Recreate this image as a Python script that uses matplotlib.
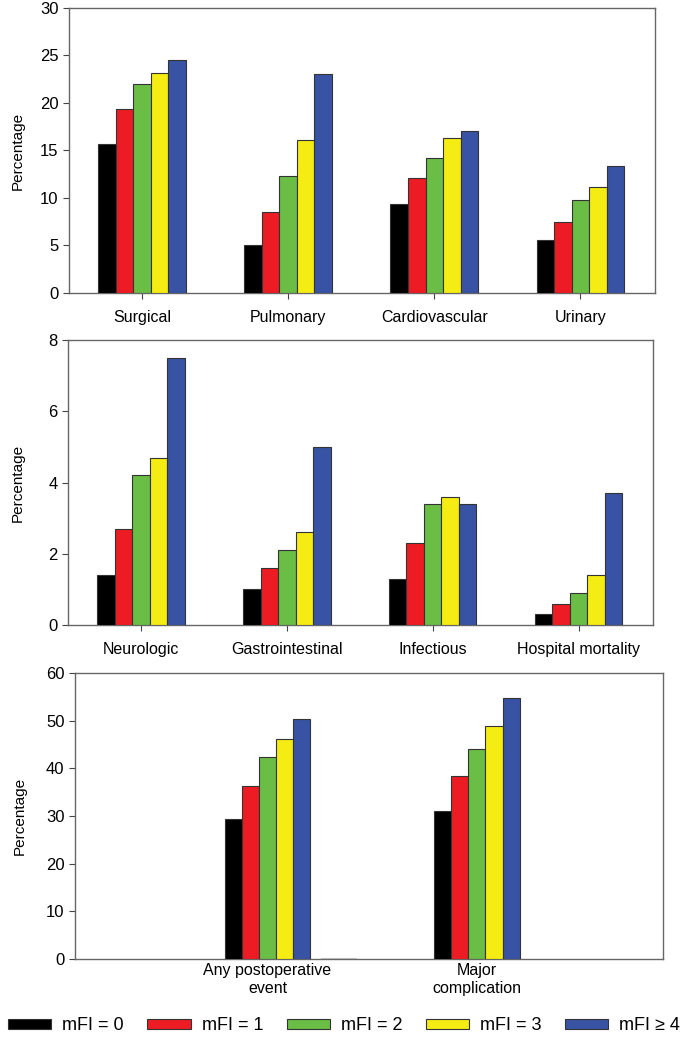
#!/usr/bin/env python3
# Complication rates by modified frailty index (mFI), three stacked panels

import numpy as np
from matplotlib import pyplot as plt
from matplotlib.patches import Patch

plt.rcParams['font.family'] = ['Liberation Sans', 'DejaVu Sans']

#
#   Data
#
series_labels = ['mFI = 0', 'mFI = 1', 'mFI = 2', 'mFI = 3', 'mFI \u2265 4']
series_colors = ['#000000', '#ED1C24', '#6ABD45', '#F5EC14', '#3953A4']

top_categories = ['Surgical', 'Pulmonary', 'Cardiovascular', 'Urinary']
top_values = [
    [15.7, 5.0, 9.4, 5.6],
    [19.4, 8.5, 12.1, 7.5],
    [22.0, 12.3, 14.2, 9.8],
    [23.2, 16.1, 16.3, 11.2],
    [24.5, 23.0, 17.1, 13.4],
]

mid_categories = ['Neurologic', 'Gastrointestinal', 'Infectious',
                  'Hospital mortality']
mid_values = [
    [1.4, 1.0, 1.3, 0.3],
    [2.7, 1.6, 2.3, 0.6],
    [4.2, 2.1, 3.4, 0.9],
    [4.7, 2.6, 3.6, 1.4],
    [7.5, 5.0, 3.4, 3.7],
]

bot_categories = ['Any postoperative\nevent', 'Major\ncomplication']
bot_values = [
    [29.3, 31.0],
    [36.4, 38.3],
    [42.3, 44.0],
    [46.1, 48.9],
    [50.3, 54.7],
]


def draw_panel(ax, categories, values, bar_w, ymax, ystep, xlim):
    x = np.arange(len(categories))
    n = len(values)
    for i, vals in enumerate(values):
        offs = (i - (n - 1) / 2) * bar_w
        ax.bar(x + offs, vals, width=bar_w, color=series_colors[i],
               edgecolor='#333333', linewidth=0.8, zorder=3)
    ax.set_xlim(*xlim)
    ax.set_ylim(0, ymax)
    ax.set_yticks(np.arange(0, ymax + 0.001, ystep))
    ax.set_xticks(x)
    ax.set_xticklabels(categories, fontsize=11.5)
    ax.tick_params(axis='y', labelsize=12, direction='out', length=4,
                   width=0.8, color='#444444')
    ax.tick_params(axis='x', direction='out', length=4, width=0.8,
                   color='#444444', pad=8)
    for sp in ax.spines.values():
        sp.set_color('#666666')
        sp.set_linewidth(1.0)
    ax.set_ylabel('Percentage', fontsize=11)
    return x


fig = plt.figure(figsize=(6.88, 10.37), dpi=100)

ax1 = fig.add_axes([0.1003, 0.7175, 0.8517, 0.2748])
draw_panel(ax1, top_categories, top_values, 0.12, 30, 5, (-0.5, 3.51))
ax1.yaxis.set_label_coords(-0.075, 0.5)

ax2 = fig.add_axes([0.0988, 0.3973, 0.8503, 0.2748])
draw_panel(ax2, mid_categories, mid_values, 0.12, 8, 2, (-0.5, 3.51))
ax2.yaxis.set_label_coords(-0.074, 0.5)

ax3 = fig.add_axes([0.109, 0.0752, 0.8547, 0.2758])
xb = draw_panel(ax3, bot_categories, bot_values, 0.082, 60, 10,
                (-0.92, 1.89))
ax3.tick_params(axis='x', length=0, pad=3)
ax3.yaxis.set_label_coords(-0.082, 0.5)
# faint empty slot right of the first group
ax3.bar(xb[0] + 0.34, 0.15, width=0.17, color='white',
        edgecolor='#bbbbbb', linewidth=0.8, zorder=3)

handles = [Patch(facecolor=c, edgecolor='#333333', linewidth=0.8)
           for c in series_colors]
fig.legend(handles, series_labels, loc='center', ncol=5,
           bbox_to_anchor=(0.5, 1 - 1026 / 1037), frameon=False,
           fontsize=13, handlelength=2.4, handleheight=0.4,
           handletextpad=0.6, columnspacing=1.3, borderaxespad=0,
           borderpad=0)

fig.savefig('out.png', dpi=100)
plt.close(fig)
